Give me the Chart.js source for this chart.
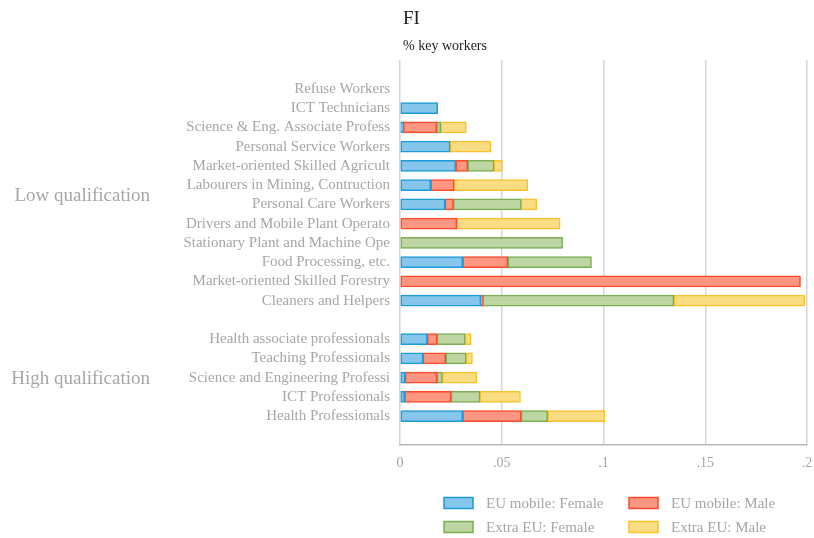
<!DOCTYPE html>
<html>
<head>
<meta charset="utf-8">
<script src="https://cdn.jsdelivr.net/npm/chart.js@4.4.0/dist/chart.umd.min.js"></script>
<style>
  html, body { margin: 0; padding: 0; background: #fff; }
  #wrap { width: 814px; height: 538px; position: relative; }
</style>
</head>
<body>
<div id="wrap"><canvas id="chartOne"></canvas></div>
<script>
// categorias (vacias = espacio entre grupos)
let categorias = ['', 'Refuse Workers', 'ICT Technicians', 'Science & Eng. Associate Profess',
    'Personal Service Workers', 'Market-oriented Skilled Agricult', 'Labourers in Mining, Contruction',
    'Personal Care Workers', 'Drivers and Mobile Plant Operato', 'Stationary Plant and Machine Ope',
    'Food Processing, etc.', 'Market-oriented Skilled Forestry', 'Cleaners and Helpers', '',
    'Health associate professionals', 'Teaching Professionals', 'Science and Engineering Professi',
    'ICT Professionals', 'Health Professionals', ''];

let euFemale   = [null, null, 0.0185, 0.0016, 0.0246, 0.0274, 0.0151, 0.0221, null, null, 0.0308, null, 0.0397, null, 0.0134, 0.0113, 0.0025, 0.0023, 0.0308, null];
let euMale     = [null, null, null, 0.0164, null, 0.0059, 0.0115, 0.0041, 0.0279, null, 0.0222, 0.1968, 0.0010, null, 0.0048, 0.0112, 0.0157, 0.0228, 0.0287, null];
let extraFemale= [null, null, null, 0.0020, null, 0.0129, null, 0.0333, null, 0.0799, 0.0411, null, 0.0939, null, 0.0138, 0.0100, 0.0026, 0.0142, 0.0131, null];
let extraMale  = [null, null, null, 0.0126, 0.0200, 0.0041, 0.0362, 0.0077, 0.0508, null, null, null, 0.0643, null, 0.0028, 0.0031, 0.0169, 0.0199, 0.0281, null];

let serieNombres = ['EU mobile: Female', 'EU mobile: Male', 'Extra EU: Female', 'Extra EU: Male'];
let xTickLabels = ['0', '.05', '.1', '.15', '.2'];
let grupos = [
    { texto: 'Low qualification', desde: 1, hasta: 12 },
    { texto: 'High qualification', desde: 14, hasta: 18 }
];

const fuente = "'Liberation Serif', 'DejaVu Serif', serif";
const rellenos = ['#85c6ea', '#ff9682', '#bdd6a3', '#fadd82'];
const bordes = ['#1d9ad8', '#fd4a2a', '#7bae52', '#fbc12b'];
const gris = '#a6a6a6';

function makeDataset(i, data) {
    return {
        label: serieNombres[i],
        data: data,
        backgroundColor: rellenos[i],
        borderColor: bordes[i],
        borderWidth: 1.5,
        borderSkipped: false,
        barThickness: 11
    };
}

// titulo, grupos y leyenda dibujados a mano
const extras = {
    id: 'extras',
    afterDraw(chart) {
        const ctx = chart.ctx;
        const area = chart.chartArea;
        const y = chart.scales.y;
        ctx.save();
        ctx.textBaseline = 'middle';
        ctx.fillStyle = '#222';
        ctx.textAlign = 'left';
        ctx.font = '19px ' + fuente;
        ctx.fillText('FI', area.left + 3, 19);
        ctx.font = '14px ' + fuente;
        ctx.fillText('% key workers', area.left + 3, 46);

        ctx.fillStyle = gris;
        ctx.textAlign = 'right';
        ctx.font = '19px ' + fuente;
        grupos.forEach(g => {
            const py = (y.getPixelForValue(g.desde) + y.getPixelForValue(g.hasta)) / 2;
            ctx.fillText(g.texto, 150, py + 1);
        });

        // leyenda 2x2
        ctx.textAlign = 'left';
        ctx.font = '15px ' + fuente;
        const cols = [444, 629];
        const filas = [503, 527];
        for (let i = 0; i < 4; i++) {
            const bx = cols[i % 2];
            const by = filas[Math.floor(i / 2)];
            ctx.fillStyle = rellenos[i];
            ctx.strokeStyle = bordes[i];
            ctx.lineWidth = 1.5;
            ctx.fillRect(bx, by - 5.5, 29, 11);
            ctx.strokeRect(bx, by - 5.5, 29, 11);
            ctx.fillStyle = gris;
            ctx.fillText(serieNombres[i], bx + 42, by + 1);
        }
        ctx.restore();
    }
};

var ctxOne = document.getElementById('chartOne').getContext('2d');
var chartOne = new Chart(ctxOne, {
    type: 'bar',
    data: {
        labels: categorias,
        datasets: [
            makeDataset(0, euFemale),
            makeDataset(1, euMale),
            makeDataset(2, extraFemale),
            makeDataset(3, extraMale)
        ]
    },
    options: {
        indexAxis: 'y',
        responsive: true,
        maintainAspectRatio: false,
        animation: false,
        layout: {
            padding: { top: 60, bottom: 63, left: 0, right: 0 }
        },
        plugins: {
            legend: { display: false },
            tooltip: { enabled: false }
        },
        scales: {
            x: {
                stacked: true,
                min: 0,
                max: 0.2,
                ticks: {
                    stepSize: 0.05,
                    color: gris,
                    font: { family: fuente, size: 14 },
                    padding: 10,
                    callback: function (value, index) { return xTickLabels[index]; }
                },
                grid: { color: '#d6d6d6', lineWidth: 1.5, drawTicks: false },
                border: { display: true, color: '#b8b8b8', width: 1.5 },
                afterFit: function (scale) {
                    scale.height = 30;
                    scale.paddingRight = 7;
                }
            },
            y: {
                stacked: true,
                ticks: {
                    color: gris,
                    font: { family: fuente, size: 15 },
                    padding: 10,
                    autoSkip: false
                },
                grid: { display: false, drawTicks: false },
                border: { display: false },
                afterFit: function (scale) { scale.width = 400; }
            }
        }
    },
    plugins: [extras]
});
</script>
</body>
</html>
